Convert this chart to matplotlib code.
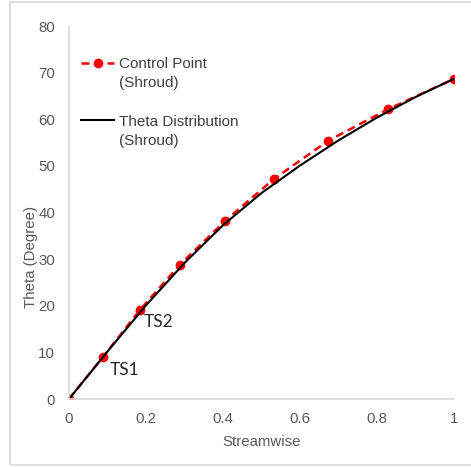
import matplotlib.pyplot as plt
from matplotlib.patches import Rectangle

# control points along the shroud (normalised streamwise vs theta)
cp_m = [0, 0.088, 0.184, 0.288, 0.405, 0.532, 0.673, 0.829, 1.0]
cp_theta = [0, 9.0, 19.1, 28.8, 38.2, 47.2, 55.4, 62.2, 68.7]

# resulting theta distribution
dist_m = [0, 0.1, 0.2, 0.3, 0.4, 0.5, 0.6, 0.7, 0.8, 0.9, 1.0]
dist_theta = [0, 10.2, 20.1, 29.2, 37.3, 44.2, 50.1, 55.5, 60.4, 64.8, 68.7]

x_ticks = [0, 0.2, 0.4, 0.6, 0.8, 1]
x_ticklabels = ["0", "0.2", "0.4", "0.6", "0.8", "1"]
y_ticks = [0, 10, 20, 30, 40, 50, 60, 70, 80]

plt.rcParams['font.family'] = ['Liberation Sans', 'DejaVu Sans']
txt_grey = '#595959'
axis_grey = '#d9d9d9'

fig = plt.figure(figsize=(4.71, 4.67), dpi=100)
ax = fig.add_axes([0.1465, 0.1456, 0.8175, 0.7984])

ax.plot(cp_m, cp_theta, color='red', lw=1.8, dashes=(3.2, 2),
        marker='o', ms=6, label='Control Point\n(Shroud)')
ax.plot(dist_m, dist_theta, color='black', lw=1.5,
        label='Theta Distribution\n(Shroud)')

ax.set_xlim(0, 1)
ax.set_ylim(0, 80)
ax.set_xticks(x_ticks)
ax.set_xticklabels(x_ticklabels)
ax.set_yticks(y_ticks)
ax.tick_params(length=0, labelsize=10.8, colors=txt_grey)
ax.tick_params(axis='x', pad=9.5)
ax.tick_params(axis='y', pad=10)

for side in ['top', 'right']:
    ax.spines[side].set_visible(False)
for side in ['left', 'bottom']:
    ax.spines[side].set_color(axis_grey)
    ax.spines[side].set_linewidth(1.2)

ax.set_xlabel('Streamwise', fontsize=10.8, color=txt_grey, labelpad=6)
ax.set_ylabel('Theta (Degree)', fontsize=10.8, color=txt_grey)
# y title sits low, beside the 20-40 tick labels
ax.yaxis.set_label_coords(-0.081, 0.38)

# station labels next to the 2nd and 3rd control points
ax.annotate('TS1', (cp_m[1], cp_theta[1]), xytext=(5, -9.5),
            textcoords='offset points', fontsize=12.5, family='Lato',
            color='#262626', va='center')
ax.annotate('TS2', (cp_m[2], cp_theta[2]), xytext=(3, -8.5),
            textcoords='offset points', fontsize=12.5, family='Lato',
            color='#262626', va='center')

leg = ax.legend(loc='upper left', bbox_to_anchor=(-0.005, 0.953), frameon=False,
                fontsize=11, handlelength=2.2, handletextpad=0.28,
                labelspacing=1.6, labelcolor='#404040')
for t in leg.get_texts():
    t.set_linespacing(1.45)
# keep each handle level with the first line of its label
for col in leg._legend_handle_box.get_children():
    for row in col.get_children():
        row.align = 'top'

# light outer border of the chart area
fig.patches.append(Rectangle((10 / 471, 2 / 467), 1.0, 463 / 467,
                             transform=fig.transFigure, fill=False,
                             edgecolor=axis_grey, lw=1.2))

fig.savefig('out.png', dpi=100)
